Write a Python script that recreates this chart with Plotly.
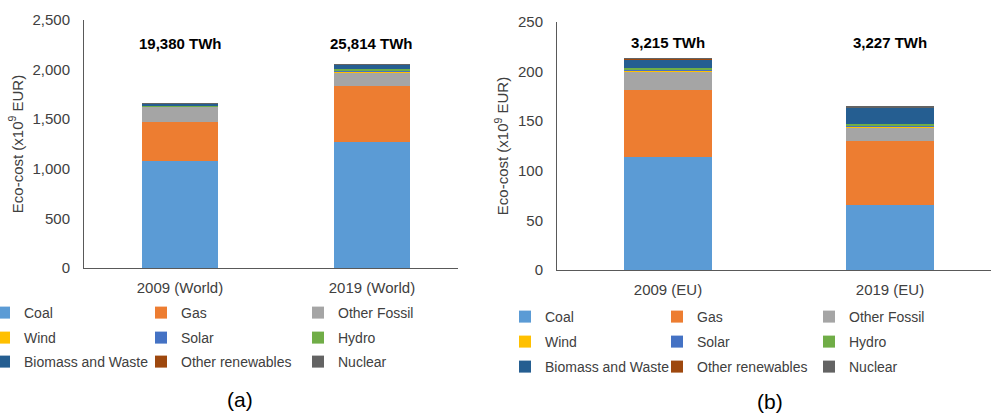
import plotly.graph_objects as go

W, H = 991, 414

series = ["Coal", "Gas", "Other Fossil", "Wind", "Solar", "Hydro",
          "Biomass and Waste", "Other renewables", "Nuclear"]
colors = ["#5B9BD5", "#ED7D31", "#A5A5A5", "#FFC000", "#4472C4", "#70AD47",
          "#255E91", "#9E480E", "#636363"]

world_cats = ["2009 (World)", "2019 (World)"]
world_2009 = [1080, 390, 157, 2, 1, 10, 20, 1, 2]
world_2019 = [1275, 560, 134, 8, 10, 15, 45, 2, 3]
world_labels = ["19,380 TWh", "25,814 TWh"]
world_ticks = [0, 500, 1000, 1500, 2000, 2500]

eu_cats = ["2009 (EU)", "2019 (EU)"]
eu_2009 = [114, 67.5, 19, 0.8, 0.4, 1.5, 9.4, 0.3, 0.8]
eu_2019 = [65.5, 64.5, 13.5, 1.2, 0.8, 2.0, 16.0, 0.3, 1.3]
eu_labels = ["3,215 TWh", "3,227 TWh"]
eu_ticks = [0, 50, 100, 150, 200, 250]

FONT = "Liberation Sans, Arial, sans-serif"
TXT = "#404040"
AX = "#595959"

fig = go.Figure()

for i, name in enumerate(series):
    row = i // 3
    fig.add_trace(go.Bar(
        x=world_cats, y=[world_2009[i], world_2019[i]], name=name,
        marker=dict(color=colors[i], line=dict(width=0)),
        xaxis="x", yaxis="y",
        legend="legend" if row == 0 else f"legend{row + 1}",
    ))
for i, name in enumerate(series):
    row = i // 3
    fig.add_trace(go.Bar(
        x=eu_cats, y=[eu_2009[i], eu_2019[i]], name=name,
        marker=dict(color=colors[i], line=dict(width=0)),
        xaxis="x2", yaxis="y2",
        legend=f"legend{row + 4}",
    ))

def px_x(p):
    return p / W

def px_y(p):
    return 1 - p / H

common_x = dict(type="category", showgrid=False, showline=True, linecolor=AX,
                linewidth=1, ticks="", tickfont=dict(size=15, color=TXT, family=FONT),
                ticklabelstandoff=6, fixedrange=True)
common_y = dict(showgrid=False, showline=True, linecolor=AX, linewidth=1,
                ticks="", tickfont=dict(size=15, color=TXT, family=FONT),
                tickformat=",d", zeroline=False, ticklabelstandoff=10, fixedrange=True)

layout = dict(
    width=W, height=H,
    margin=dict(l=0, r=0, t=0, b=0, autoexpand=False),
    paper_bgcolor="white", plot_bgcolor="white",
    barmode="stack", bargap=0.6,
    font=dict(family=FONT, size=15, color=TXT),
    xaxis=dict(common_x, domain=[px_x(84), px_x(458)], range=[-0.5, 1.448], anchor="y"),
    yaxis=dict(common_y, domain=[px_y(268), px_y(20)], range=[0, 2500],
               tickvals=world_ticks, anchor="x",
               title=dict(text="Eco-cost (x10<sup>9</sup> EUR)",
                          font=dict(size=15, color=TXT, family=FONT), standoff=5)),
    xaxis2=dict(common_x, domain=[px_x(557), 1.0], range=[-0.5, 1.455], anchor="y2"),
    yaxis2=dict(common_y, domain=[px_y(270), px_y(22)], range=[0, 250],
                tickvals=eu_ticks, anchor="x2",
                title=dict(text="Eco-cost (x10<sup>9</sup> EUR)",
                           font=dict(size=15, color=TXT, family=FONT), standoff=5)),
)

rows_a = [313, 338, 362]
rows_b = [317, 342, 367]
for r in range(3):
    key = "legend" if r == 0 else f"legend{r + 1}"
    layout[key] = dict(orientation="h", x=px_x(-16), xanchor="left",
                       y=px_y(rows_a[r]), yanchor="middle",
                       entrywidth=112, entrywidthmode="pixels",
                       bgcolor="rgba(0,0,0,0)", borderwidth=0,
                       font=dict(size=14, color=TXT, family=FONT),
                       traceorder="normal")
    layout[f"legend{r + 4}"] = dict(orientation="h", x=px_x(505), xanchor="left",
                                    y=px_y(rows_b[r]), yanchor="middle",
                                    entrywidth=107, entrywidthmode="pixels",
                                    bgcolor="rgba(0,0,0,0)", borderwidth=0,
                                    font=dict(size=14, color=TXT, family=FONT),
                                    traceorder="normal")

fig.update_layout(**layout)

annos = []
for j, lab in enumerate(world_labels):
    annos.append(dict(x=world_cats[j], xref="x", y=px_y(43), yref="paper",
                      yanchor="middle", text=f"<b>{lab}</b>", showarrow=False,
                      font=dict(size=15, color="black", family=FONT)))
for j, lab in enumerate(eu_labels):
    annos.append(dict(x=eu_cats[j], xref="x2", y=px_y(42), yref="paper",
                      yanchor="middle", text=f"<b>{lab}</b>", showarrow=False,
                      font=dict(size=15, color="black", family=FONT)))
annos.append(dict(x=px_x(240), y=px_y(399), xref="paper", yref="paper", text="(a)",
                  xanchor="center", yanchor="middle",
                  showarrow=False, font=dict(size=21, color="black", family=FONT)))
annos.append(dict(x=px_x(770), y=px_y(401), xref="paper", yref="paper", text="(b)",
                  xanchor="center", yanchor="middle",
                  showarrow=False, font=dict(size=21, color="black", family=FONT)))
fig.update_layout(annotations=annos)

fig.write_html("out.html",
               config={"displayModeBar": False},
               post_script="document.body.style.margin='0';document.body.style.overflow='hidden';")
